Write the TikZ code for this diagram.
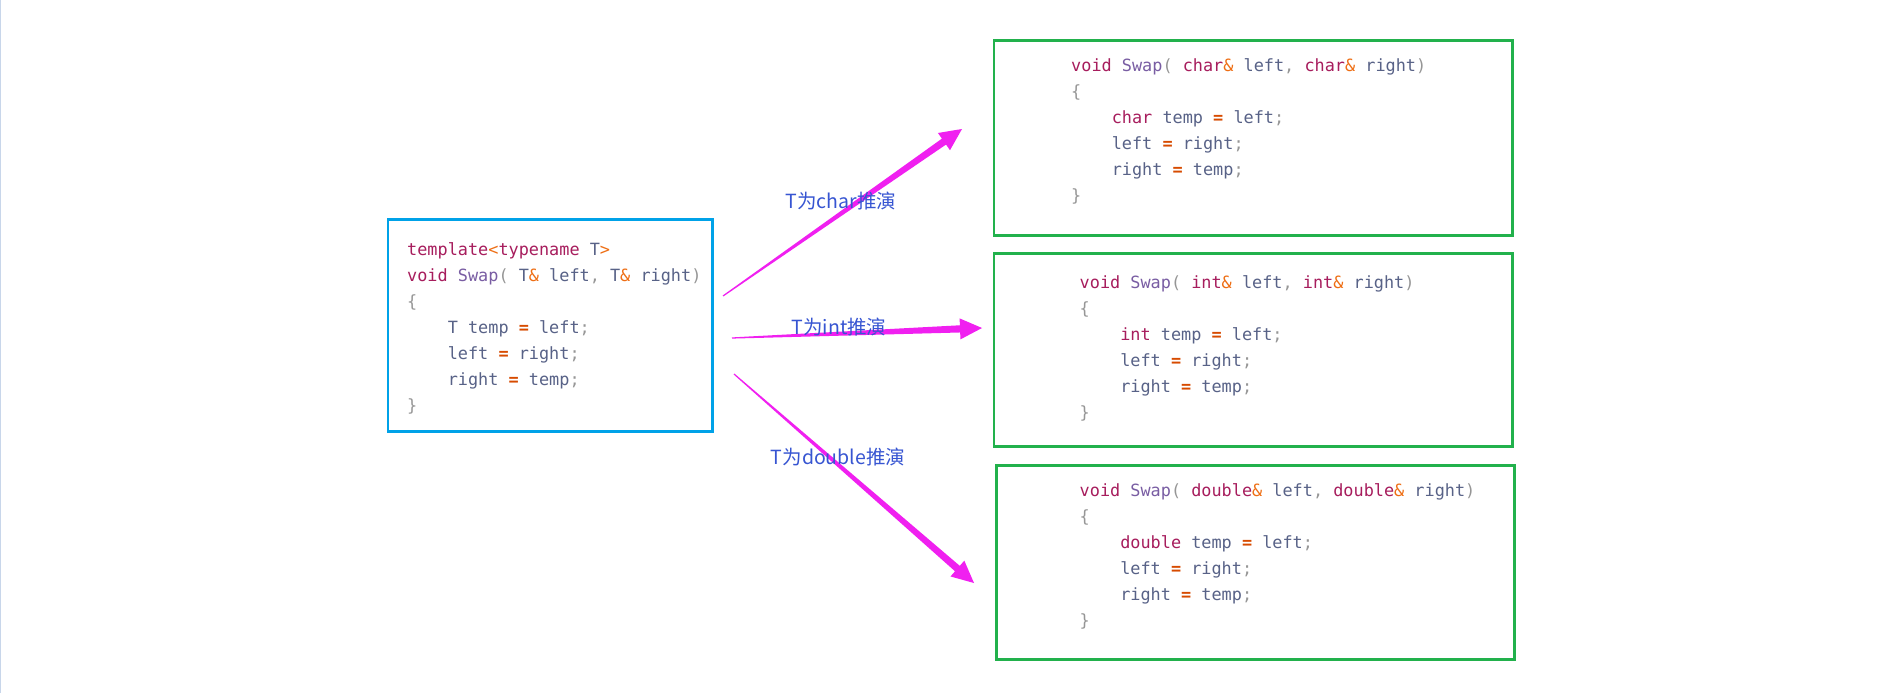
\documentclass[tikz,border=0pt]{standalone}
\usepackage{fontspec}
\usetikzlibrary{calc}
\newfontfamily\codefont{DejaVu Sans Mono}
\newfontfamily\cjkfont{Noto Sans CJK SC}
\definecolor{kwc}{RGB}{167,29,93}
\definecolor{fnc}{RGB}{121,93,163}
\definecolor{idc}{RGB}{88,98,135}
\definecolor{opc}{RGB}{215,75,0}
\definecolor{syc}{RGB}{238,110,20}
\definecolor{puc}{RGB}{150,150,150}
\definecolor{bluebox}{RGB}{0,162,232}
\definecolor{greenbox}{RGB}{34,177,76}
\definecolor{arrowc}{RGB}{240,32,240}
\definecolor{labc}{RGB}{55,85,210}
\definecolor{edgec}{RGB}{200,214,234}
\newcommand\kw[1]{\textcolor{kwc}{#1}}
\newcommand\fn[1]{\textcolor{fnc}{#1}}
\newcommand\id[1]{\textcolor{idc}{#1}}
\newcommand\op[1]{\textcolor{opc}{\bfseries #1}}
\newcommand\sy[1]{\textcolor{syc}{#1}}
\newcommand\pu[1]{\textcolor{puc}{#1}}
\newcommand\ind{\hphantom{0000}}
\newcommand\fst{\rule{0pt}{14pt}}
\newcommand\FatArrow[2]{%
  \path ($(#2)!22pt!(#1)$) coordinate (hb);
  \fill[arrowc] ($(#1)!0.6pt!90:(#2)$) -- ($(hb)!3.6pt!-90:(#1)$) -- ($(hb)!10.5pt!-90:(#1)$)
    -- (#2) -- ($(hb)!10.5pt!90:(#1)$) -- ($(hb)!3.6pt!90:(#1)$) -- ($(#1)!0.6pt!-90:(#2)$) -- cycle;}
\tikzset{
  codebox/.style={draw=#1, line width=2.7pt, inner sep=0pt, outer sep=0pt, anchor=north west},
  code/.style={inner sep=0pt, anchor=north west, align=left, font=\codefont\fontsize{16.85}{26}\selectfont},
  lab/.style={text=labc, font=\cjkfont\fontsize{19.5}{22}\selectfont, inner sep=0pt}
}
\begin{document}
\begin{tikzpicture}[x=1pt,y=-1pt]
\fill[white] (0,0) rectangle (1882,693);
\useasboundingbox (0,0) rectangle (1882,693);
\draw[edgec, line width=1.2pt] (0.6,0) -- (0.6,693);

% boxes
\node[codebox=bluebox, minimum width=324.7pt, minimum height=212pt] (L) at (388,219.7) {};
\node[codebox=greenbox, minimum width=518.7pt, minimum height=195pt] (R1) at (994,40.7) {};
\node[codebox=greenbox, minimum width=518.7pt, minimum height=192.6pt] (R2) at (994,253.7) {};
\node[codebox=greenbox, minimum width=518pt, minimum height=194pt] (R3) at (996.3,465.3) {};

% code
\node[code] (Lc) at (407,241) {\fst\kw{template}\sy{<}\kw{typename} \id{T}\sy{>}\\
\kw{void} \fn{Swap}\pu{(} \id{T}\sy{\&} \id{left}\pu{,} \id{T}\sy{\&} \id{right}\pu{)}\\
\pu{\{}\\
\ind\id{T temp} \op{=} \id{left}\pu{;}\\
\ind\id{left} \op{=} \id{right}\pu{;}\\
\ind\id{right} \op{=} \id{temp}\pu{;}\\
\pu{\}}};

\node[code] (R1c) at (1071,57) {\fst\kw{void} \fn{Swap}\pu{(} \kw{char}\sy{\&} \id{left}\pu{,} \kw{char}\sy{\&} \id{right}\pu{)}\\
\pu{\{}\\
\ind\kw{char} \id{temp} \op{=} \id{left}\pu{;}\\
\ind\id{left} \op{=} \id{right}\pu{;}\\
\ind\id{right} \op{=} \id{temp}\pu{;}\\
\pu{\}}};

\node[code] (R2c) at (1079.5,274) {\fst\kw{void} \fn{Swap}\pu{(} \kw{int}\sy{\&} \id{left}\pu{,} \kw{int}\sy{\&} \id{right}\pu{)}\\
\pu{\{}\\
\ind\kw{int} \id{temp} \op{=} \id{left}\pu{;}\\
\ind\id{left} \op{=} \id{right}\pu{;}\\
\ind\id{right} \op{=} \id{temp}\pu{;}\\
\pu{\}}};

\node[code] (R3c) at (1079.5,482) {\fst\kw{void} \fn{Swap}\pu{(} \kw{double}\sy{\&} \id{left}\pu{,} \kw{double}\sy{\&} \id{right}\pu{)}\\
\pu{\{}\\
\ind\kw{double} \id{temp} \op{=} \id{left}\pu{;}\\
\ind\id{left} \op{=} \id{right}\pu{;}\\
\ind\id{right} \op{=} \id{temp}\pu{;}\\
\pu{\}}};

% arrows
\coordinate (s1) at (723,296);
\coordinate (t1) at (962,129);
\coordinate (s2) at (732,338);
\coordinate (t2) at (982,328);
\coordinate (s3) at (734,374);
\coordinate (t3) at (974,583);
\FatArrow{s1}{t1}
\FatArrow{s2}{t2}
\FatArrow{s3}{t3}

% labels
\node[lab] (l1) at (841,201) {T为char推演};
\node[lab] (l2) at (839,327) {T为int推演};
\node[lab] (l3) at (838,457) {T为double推演};
\end{tikzpicture}
\end{document}
